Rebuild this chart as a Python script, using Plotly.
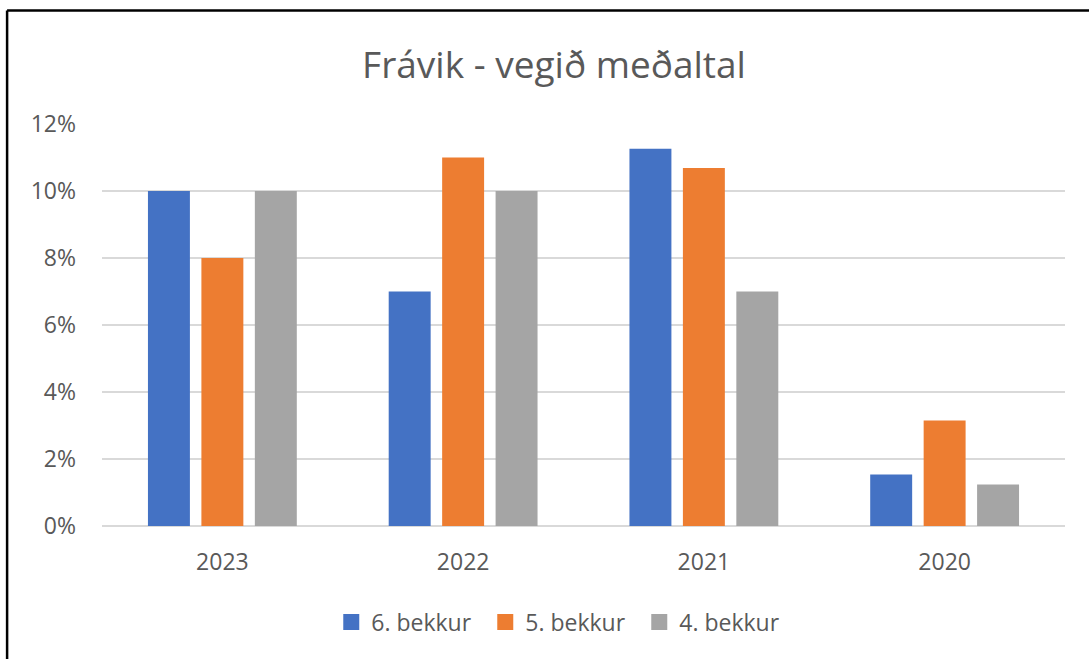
import plotly.graph_objects as go

categories = ["2023", "2022", "2021", "2020"]
series_names = ["6. bekkur", "5. bekkur", "4. bekkur"]
bekkur6 = [0.100, 0.070, 0.1126, 0.0154]
bekkur5 = [0.080, 0.110, 0.1069, 0.0315]
bekkur4 = [0.100, 0.100, 0.070, 0.0124]
colors = ["#4472C4", "#ED7D31", "#A5A5A5"]
y_ticks = [0, 0.02, 0.04, 0.06, 0.08, 0.10, 0.12]

W, H = 1089, 659
L, R, T, B = 101.5, 23.5, 124, 133
pw, ph = W - L - R, H - T - B

def px_x(x):
    return (x - L) / pw

def px_y(y):
    return (H - B - y) / ph

fig = go.Figure()
for name, vals, col in zip(series_names, [bekkur6, bekkur5, bekkur4], colors):
    fig.add_trace(go.Bar(x=categories, y=vals, name=name, marker_color=col,
                         marker_line_width=0, showlegend=False))
# legend entries with larger square swatches
for name, col in zip(series_names, colors):
    fig.add_trace(go.Scatter(x=[None], y=[None], mode="markers", name=name,
                             marker=dict(symbol="square", size=16, color=col)))

font_fam = "Open Sans, Noto Sans, sans-serif"
fig.update_layout(
    width=W, height=H,
    margin=dict(l=L, r=R, t=T, b=B),
    paper_bgcolor="white", plot_bgcolor="white",
    barmode="group", bargap=0.334, bargroupgap=0.215,
    title=dict(text="Frávik - vegið meðaltal", x=554 / W, xanchor="center",
               y=1 - 65 / H, yanchor="middle",
               font=dict(family=font_fam, size=37, color="#595959")),
    font=dict(family=font_fam, color="#595959", size=23),
    yaxis=dict(range=[0, 0.12], tickvals=y_ticks, tickformat=".0%",
               showgrid=True, gridcolor="#d9d9d9", gridwidth=2,
               zeroline=True, zerolinecolor="#d9d9d9", zerolinewidth=2,
               showline=False, ticks="", ticklabelstandoff=25,
               tickfont=dict(size=23, color="#595959")),
    xaxis=dict(showline=False, ticks="", ticklabelstandoff=20,
               tickfont=dict(size=23, color="#595959")),
    legend=dict(orientation="h", x=px_x(331), xanchor="left",
                y=px_y(622), yanchor="middle",
                font=dict(size=23, color="#595959"),
                itemwidth=30, entrywidth=109, traceorder="normal"),
    showlegend=True,
)

# image frame (left and top borders)
fig.add_shape(type="line", xref="paper", yref="paper",
              x0=px_x(6.5), x1=px_x(6.5), y0=px_y(H + 5), y1=px_y(10.5),
              line=dict(color="black", width=2.5))
fig.add_shape(type="line", xref="paper", yref="paper",
              x0=px_x(6.5), x1=px_x(W + 5), y0=px_y(10.5), y1=px_y(10.5),
              line=dict(color="black", width=2.5))

fig.write_html("out.html", config={"displayModeBar": False},
               post_script="document.body.style.margin='0px';")
